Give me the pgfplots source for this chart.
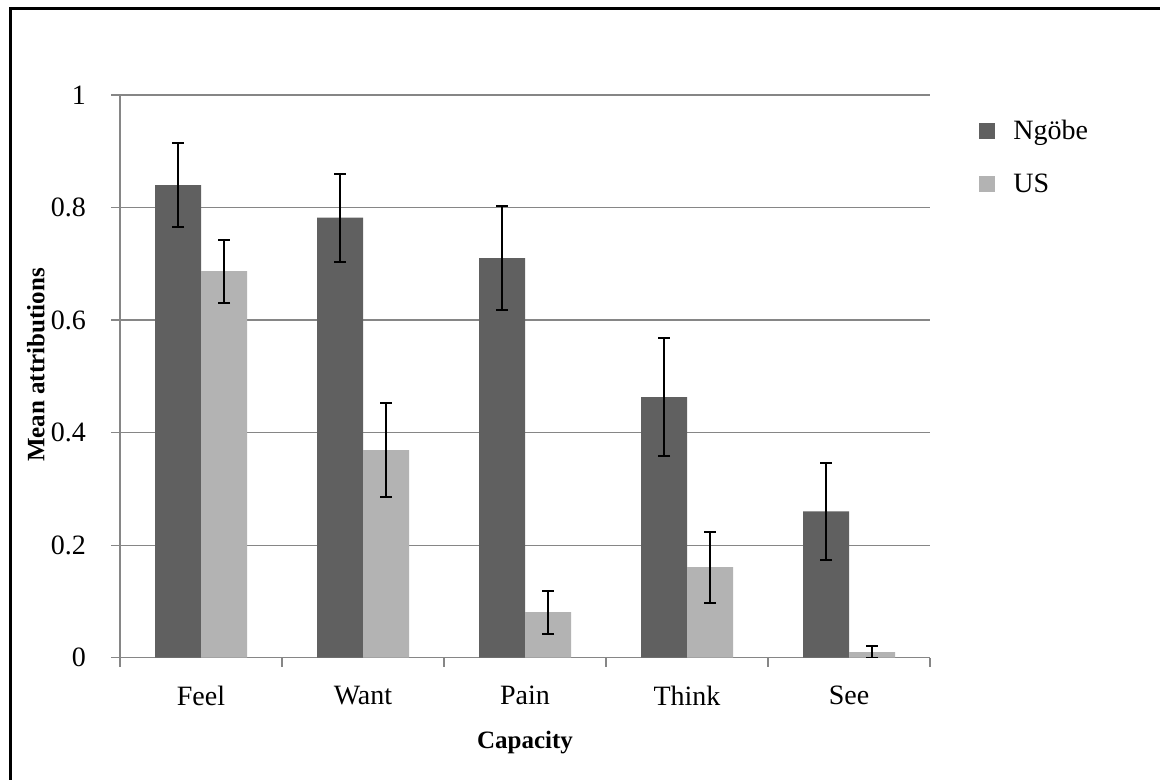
\documentclass[border=0pt]{standalone}
\usepackage{fontspec}
\setmainfont{Liberation Serif}
\usepackage{pgfplots}
\usepackage{pgfplotstable}
\pgfplotsset{compat=1.18}

\definecolor{ngobe}{RGB}{96,96,96}
\definecolor{usgray}{RGB}{179,179,179}
\definecolor{axisgray}{RGB}{134,134,134}
\newcommand\chartfont{\fontsize{14}{16}\selectfont}
\newcommand\labelfont{\fontsize{12.5}{15}\selectfont\bfseries}

% x  mean  err
\pgfplotstableread{
x  y      e
0  0.840  0.075
1  0.782  0.078
2  0.710  0.092
3  0.463  0.105
4  0.260  0.086
}\ngobedata
\pgfplotstableread{
x  y      e
0  0.687  0.056
1  0.369  0.083
2  0.081  0.038
3  0.161  0.063
4  0.010  0.011
}\usdata

\begin{document}
\begin{tikzpicture}
\path[use as bounding box] (0,0) rectangle (580pt,390pt);
\draw[line width=1.35pt, line join=miter] (5.15pt,-2pt) -- (5.15pt,385.65pt) -- (582pt,385.65pt);
\begin{axis}[
  at={(60pt,61.15pt)}, anchor=south west,
  scale only axis, width=405pt, height=281.35pt,
  xmin=-0.5, xmax=4.5, ymin=0, ymax=1,
  ybar=0pt, bar width=23pt,
  axis x line*=bottom, axis y line*=left,
  axis line style={axisgray, line width=0.6pt, -},
  ymajorgrids, grid style={axisgray, line width=0.6pt},
  ytick={0,0.2,...,1},
  xtick={0,...,4},
  xticklabels={Feel,Want,Pain,Think,See},
  minor xtick={-0.5,0.5,...,4.5},
  tick align=outside,
  major tick length=4.5pt, minor tick length=4.5pt,
  every tick/.style={axisgray, line width=0.6pt},
  every major x tick/.append style={draw=none},
  /pgf/number format/assume math mode=true,
  tick label style={font=\chartfont, black},
  yticklabel style={xshift=-9pt, /pgf/number format/.cd, fixed, precision=1},
  xticklabel style={yshift=-6pt},
  ylabel={Mean attributions}, xlabel={Capacity},
  every axis y label/.style={at={(axis description cs:-0.104,0.52)}, rotate=90, anchor=center, font=\labelfont},
  every axis x label/.style={at={(axis description cs:0.5,-0.15)}, anchor=center, font=\labelfont},
  legend style={draw=none, fill=none, font=\chartfont, at={(rel axis cs:1.053,0.97)}, anchor=north west,
    row sep=11.5pt, legend cell align=left,
    /tikz/every odd column/.append style={column sep=7pt}},
  legend image code/.code={\fill[#1] (0pt,-4pt) rectangle (8pt,4pt);},
  error bars/error bar style={black, line width=1pt},
  error bars/error mark options={black, line width=1pt, mark size=3pt},
]
\addplot[fill=ngobe, draw=none, error bars/.cd, y dir=both, y explicit, error mark=|]
  table[x=x, y=y, y error=e] {\ngobedata};
\addlegendentry{Ngöbe}
\addplot[fill=usgray, draw=none, error bars/.cd, y dir=both, y explicit, error mark=|]
  table[x=x, y=y, y error=e] {\usdata};
\addlegendentry{US}
\end{axis}
\end{tikzpicture}
\end{document}
